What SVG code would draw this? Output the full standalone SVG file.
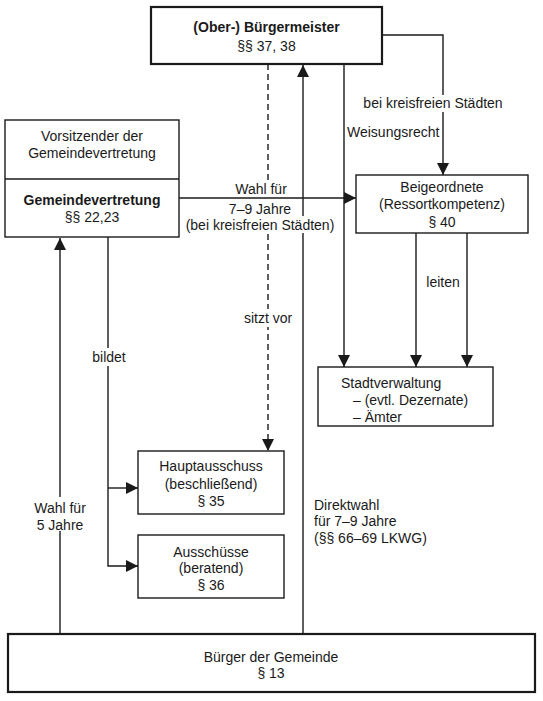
<svg xmlns="http://www.w3.org/2000/svg" width="543" height="701" viewBox="0 0 543 701">
<defs>
<style>
text{font-family:"Liberation Sans",Arial,sans-serif;font-size:14px;fill:#1a1a1a}
.c{text-anchor:middle}
.b{font-weight:bold}
.box{fill:#fff;stroke:#1a1a1a;stroke-width:1.4}
.thick{stroke-width:2.2}
.ln{fill:none;stroke:#1a1a1a;stroke-width:1.4}
.dash{stroke-dasharray:6 4}
.bg{fill:#fff;stroke:none}
</style>
<marker id="ah" viewBox="0 0 12 12" refX="12" refY="6" markerWidth="12" markerHeight="12" markerUnits="userSpaceOnUse" orient="auto">
<path d="M0,0 L12,6 L0,12 Z" fill="#1a1a1a"/>
</marker>
</defs>
<rect width="543" height="701" fill="#fff"/>
<g id="connectors">
<polyline class="ln" points="382,35 443,35 443,175" marker-end="url(#ah)"/>
<line class="ln" x1="344" y1="64" x2="344" y2="367" marker-end="url(#ah)"/>
<line class="ln" x1="416" y1="233" x2="416" y2="367" marker-end="url(#ah)"/>
<line class="ln" x1="467" y1="233" x2="467" y2="367" marker-end="url(#ah)"/>
<line class="ln" x1="303" y1="633" x2="303" y2="65" marker-end="url(#ah)"/>
<line class="ln dash" x1="268" y1="64" x2="268" y2="451" marker-end="url(#ah)"/>
<polyline class="ln" points="108,237 108,566 138,566" marker-end="url(#ah)"/>
<line class="ln" x1="108" y1="488" x2="138" y2="488" marker-end="url(#ah)"/>
<line class="ln" x1="60" y1="633" x2="60" y2="238" marker-end="url(#ah)"/>
<rect class="bg" x="228" y="180" width="66" height="36"/>
<rect class="bg" x="184" y="216" width="153" height="17"/>
<rect class="bg" x="360" y="95" width="146" height="17"/>
<rect class="bg" x="242" y="309" width="53" height="18"/>
<rect class="bg" x="87" y="348" width="44" height="18"/>
<rect class="bg" x="26" y="497" width="68" height="34"/>
<line class="ln" x1="179" y1="198" x2="356" y2="198" marker-end="url(#ah)"/>
<text class="c" x="433" y="108">bei kreisfreien Städten</text>
<text x="347" y="137">Weisungsrecht</text>
<text class="c" x="443" y="287">leiten</text>
<text class="c" x="268" y="323">sitzt vor</text>
<text class="c" x="109" y="362">bildet</text>
<text class="c" x="261" y="194">Wahl für</text>
<text class="c" x="260" y="214">7–9 Jahre</text>
<text class="c" x="260" y="230">(bei kreisfreien Städten)</text>
<text class="c" x="60" y="513">Wahl für</text>
<text class="c" x="60" y="530">5 Jahre</text>
<text x="314" y="510">Direktwahl</text>
<text x="314" y="526">für 7–9 Jahre</text>
<text x="314" y="543">(§§ 66–69 LKWG)</text>
</g>
<g id="buergermeister">
<rect class="box thick" x="151" y="7" width="231" height="57"/>
<text class="c b" x="266.5" y="32">(Ober-) Bürgermeister</text>
<text class="c" x="266.5" y="51">§§ 37, 38</text>
</g>
<g id="gemeindevertretung">
<rect class="box" x="5" y="120" width="174" height="117"/>
<line class="ln" x1="5" y1="179" x2="179" y2="179"/>
<text class="c" x="92" y="141">Vorsitzender der</text>
<text class="c" x="92" y="158">Gemeindevertretung</text>
<text class="c b" x="92" y="205">Gemeindevertretung</text>
<text class="c" x="92" y="222">§§ 22,23</text>
</g>
<g id="beigeordnete">
<rect class="box" x="356" y="175" width="172" height="58"/>
<text class="c" x="442" y="192">Beigeordnete</text>
<text class="c" x="442" y="209">(Ressortkompetenz)</text>
<text class="c" x="442" y="227">§ 40</text>
</g>
<g id="stadtverwaltung">
<rect class="box" x="318" y="367" width="175" height="59"/>
<text x="341" y="388">Stadtverwaltung</text>
<text x="353" y="405">– (evtl. Dezernate)</text>
<text x="353" y="422">– Ämter</text>
</g>
<g id="hauptausschuss">
<rect class="box" x="138" y="451" width="146" height="63"/>
<text class="c" x="211" y="471">Hauptausschuss</text>
<text class="c" x="211" y="489">(beschließend)</text>
<text class="c" x="211" y="506">§ 35</text>
</g>
<g id="ausschuesse">
<rect class="box" x="138" y="535" width="146" height="63"/>
<text class="c" x="211" y="557">Ausschüsse</text>
<text class="c" x="211" y="573">(beratend)</text>
<text class="c" x="211" y="590">§ 36</text>
</g>
<g id="buerger">
<rect class="box thick" x="8" y="634" width="527" height="58"/>
<text class="c" x="271" y="662">Bürger der Gemeinde</text>
<text class="c" x="271" y="678">§ 13</text>
</g>
</svg>
